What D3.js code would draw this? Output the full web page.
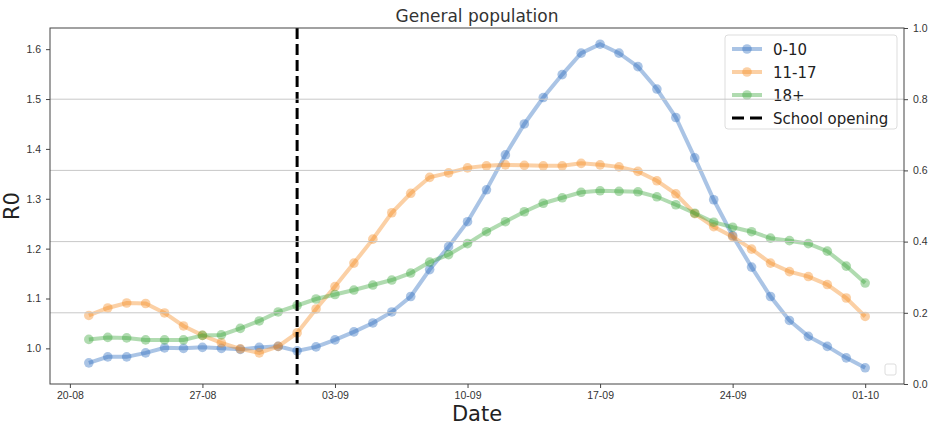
<!DOCTYPE html>
<html>
<head>
<meta charset="utf-8">
<script src="https://cdn.jsdelivr.net/npm/d3@7"></script>
<style>
  body { margin: 0; background: #fff; }
  svg { font-family: "DejaVu Sans", sans-serif; }
  .axis text { fill: #333; font-size: 10.5px; }
  .axis path, .axis line { stroke: #444; }
</style>
</head>
<body>
<svg id="chart" width="938" height="428"></svg>
<script>
// dates of the daily estimates (2020)
const dates = [
  '21-08', '22-08', '23-08', '24-08', '25-08', '26-08', '27-08', '28-08', '29-08', '30-08', '31-08',
  '01-09', '02-09', '03-09', '04-09', '05-09', '06-09', '07-09', '08-09', '09-09', '10-09',
  '11-09', '12-09', '13-09', '14-09', '15-09', '16-09', '17-09', '18-09', '19-09', '20-09',
  '21-09', '22-09', '23-09', '24-09', '25-09', '26-09', '27-09', '28-09', '29-09', '30-09', '01-10'
];

const age0to10 = [
  0.971, 0.983, 0.983, 0.991, 1.001, 1.000, 1.002, 1.000, 0.998, 1.002, 1.004,
  0.995, 1.003, 1.017, 1.033, 1.051, 1.073, 1.104, 1.158, 1.204, 1.254,
  1.318, 1.388, 1.450, 1.503, 1.549, 1.592, 1.610, 1.592, 1.565, 1.520,
  1.463, 1.382, 1.298, 1.226, 1.163, 1.104, 1.056, 1.024, 1.004, 0.981, 0.961
];

const age11to17 = [
  1.066, 1.081, 1.091, 1.090, 1.071, 1.045, 1.026, 1.011, 0.999, 0.991, 1.004,
  1.031, 1.079, 1.124, 1.171, 1.219, 1.272, 1.311, 1.343, 1.352, 1.362,
  1.366, 1.368, 1.367, 1.366, 1.366, 1.371, 1.368, 1.364, 1.355, 1.336,
  1.310, 1.270, 1.244, 1.224, 1.199, 1.171, 1.154, 1.144, 1.128, 1.101, 1.064
];

const age18plus = [
  1.018, 1.022, 1.021, 1.017, 1.017, 1.017, 1.026, 1.027, 1.040, 1.055, 1.073,
  1.086, 1.099, 1.108, 1.117, 1.127, 1.137, 1.151, 1.173, 1.188, 1.210,
  1.234, 1.254, 1.274, 1.291, 1.302, 1.313, 1.316, 1.315, 1.314, 1.304,
  1.288, 1.271, 1.253, 1.243, 1.234, 1.221, 1.216, 1.210, 1.195, 1.165, 1.131
];

const seriesNames = ['0-10', '11-17', '18+'];
const schoolOpening = '01-09';
const xTickLabels = ['20-08', '27-08', '03-09', '10-09', '17-09', '24-09', '01-10'];
const leftTicks = [1.0, 1.1, 1.2, 1.3, 1.4, 1.5, 1.6];
const rightTicks = [0.0, 0.2, 0.4, 0.6, 0.8, 1.0];

const colors = ['#2a6cbf', '#f58a1f', '#3aa63a'];

function drawChart() {
  const svg = d3.select('#chart');
  const margin = {top: 28, right: 34, bottom: 44, left: 50},
    width = 938,
    height = 428;

  const parse = d3.timeParse('%d-%m-%Y');
  const toDate = s => parse(s + '-2020');

  const series = [age0to10, age11to17, age18plus].map((vals, k) => ({
    name: seriesNames[k],
    color: colors[k],
    values: vals.map((v, i) => ({date: toDate(dates[i]), value: v}))
  }));

  // matplotlib style 5% margins
  const all = series.flatMap(s => s.values);
  const dExt = d3.extent(all, d => d.date);
  const dPad = (dExt[1] - dExt[0]) * 0.05;
  const vExt = d3.extent(all, d => d.value);
  const vPad = (vExt[1] - vExt[0]) * 0.05;

  const x = d3.scaleTime()
    .domain([new Date(+dExt[0] - dPad), new Date(+dExt[1] + dPad)])
    .range([margin.left, width - margin.right]);

  const y = d3.scaleLinear()
    .domain([vExt[0] - vPad, vExt[1] + vPad])
    .range([height - margin.bottom, margin.top]);

  const y2 = d3.scaleLinear()
    .domain([0, 1])
    .range([height - margin.bottom, margin.top]);

  // title
  svg.append('text')
    .attr('x', (margin.left + width - margin.right) / 2)
    .attr('y', 22)
    .attr('text-anchor', 'middle')
    .attr('font-size', 17)
    .attr('fill', '#333')
    .text('General population');

  // axes
  svg.append('g')
    .attr('class', 'axis')
    .attr('transform', `translate(0, ${height - margin.bottom})`)
    .call(d3.axisBottom(x).tickValues(xTickLabels.map(toDate)).tickFormat(d3.timeFormat('%d-%m')).tickSize(4).tickPadding(4))
    .call(g => g.select('.domain').remove());

  svg.append('g')
    .attr('class', 'axis')
    .attr('transform', `translate(${margin.left}, 0)`)
    .call(d3.axisLeft(y).tickValues(leftTicks).tickFormat(d3.format('.1f')).tickSize(4).tickPadding(5))
    .call(g => g.select('.domain').remove());

  svg.append('g')
    .attr('class', 'axis')
    .attr('transform', `translate(${width - margin.right}, 0)`)
    .call(d3.axisRight(y2).tickValues(rightTicks).tickFormat(d3.format('.1f')).tickSize(4).tickPadding(5))
    .call(g => g.select('.domain').remove());

  // axis labels
  svg.append('text')
    .attr('x', (margin.left + width - margin.right) / 2)
    .attr('y', 421)
    .attr('text-anchor', 'middle')
    .attr('font-size', 21)
    .attr('fill', '#222')
    .text('Date');

  svg.append('text')
    .attr('transform', `translate(19, ${(margin.top + height - margin.bottom) / 2}) rotate(-90)`)
    .attr('text-anchor', 'middle')
    .attr('font-size', 21)
    .attr('fill', '#222')
    .text('R0');

  const line = d3.line()
    .x(d => x(d.date))
    .y(d => y(d.value));

  const plot = svg.append('g');

  series.forEach(s => {
    plot.append('path')
      .attr('d', line(s.values))
      .attr('fill', 'none')
      .attr('stroke', s.color)
      .attr('stroke-width', 4)
      .attr('stroke-opacity', 0.4);
    plot.selectAll(null)
      .data(s.values)
      .join('circle')
      .attr('cx', d => x(d.date))
      .attr('cy', d => y(d.value))
      .attr('r', 4.8)
      .attr('fill', s.color)
      .attr('fill-opacity', 0.4);
  });

  // school opening
  plot.append('line')
    .attr('x1', x(toDate(schoolOpening)))
    .attr('x2', x(toDate(schoolOpening)))
    .attr('y1', margin.top)
    .attr('y2', height - margin.bottom)
    .attr('stroke', '#000')
    .attr('stroke-width', 3)
    .attr('stroke-dasharray', '11,5');

  // legend
  const lg = svg.append('g').attr('transform', 'translate(725, 35)');
  lg.append('rect')
    .attr('width', 172)
    .attr('height', 94)
    .attr('rx', 3)
    .attr('fill', '#fff')
    .attr('fill-opacity', 0.8)
    .attr('stroke', '#ddd');

  const entries = seriesNames.map((n, k) => ({name: n, color: colors[k], dash: null}))
    .concat([{name: 'School opening', color: '#000', dash: '12,6'}]);

  entries.forEach((e, i) => {
    const cy = 14 + i * 23;
    lg.append('line')
      .attr('x1', 7).attr('x2', 37)
      .attr('y1', cy).attr('y2', cy)
      .attr('stroke', e.color)
      .attr('stroke-width', e.dash ? 3 : 4)
      .attr('stroke-opacity', e.dash ? 1 : 0.4)
      .attr('stroke-dasharray', e.dash);
    if (!e.dash) {
      lg.append('circle')
        .attr('cx', 22).attr('cy', cy).attr('r', 4.8)
        .attr('fill', e.color).attr('fill-opacity', 0.4);
    }
    lg.append('text')
      .attr('x', 48).attr('y', cy + 5.5)
      .attr('font-size', 15)
      .attr('fill', '#222')
      .text(e.name);
  });

  // gridlines of the twin axis sit on top of the first axis (and its legend)
  svg.append('g')
    .selectAll('line')
    .data(rightTicks.filter(t => t > 0 && t < 1))
    .join('line')
    .attr('x1', margin.left)
    .attr('x2', width - margin.right)
    .attr('y1', d => y2(d))
    .attr('y2', d => y2(d))
    .attr('stroke', '#c8c8c8')
    .attr('stroke-width', 1);

  // empty legend of the twin axis
  svg.append('rect')
    .attr('x', 885).attr('y', 364)
    .attr('width', 11).attr('height', 11)
    .attr('rx', 2)
    .attr('fill', '#fff')
    .attr('stroke', '#ddd');

  // frame
  svg.append('rect')
    .attr('x', margin.left)
    .attr('y', margin.top)
    .attr('width', width - margin.right - margin.left)
    .attr('height', height - margin.bottom - margin.top)
    .attr('fill', 'none')
    .attr('stroke', '#444')
    .attr('stroke-width', 1);
}

drawChart();
</script>
</body>
</html>
